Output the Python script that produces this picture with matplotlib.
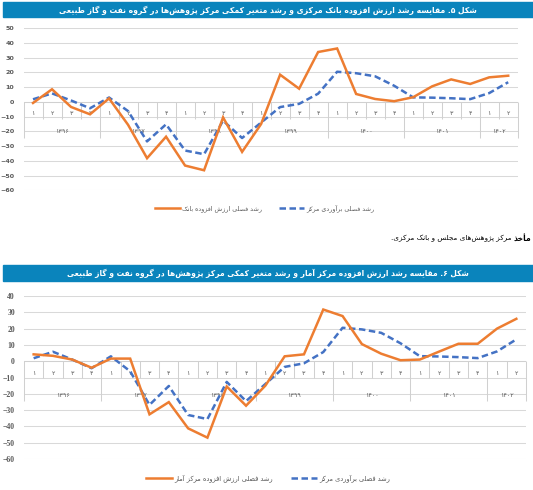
import re
import matplotlib
matplotlib.use('Agg')
import matplotlib.pyplot as plt
from matplotlib.patches import Rectangle

W, H = 533, 490

# ---------------- data ----------------
quarters = ['۱', '۲', '۳', '۴'] * 6 + ['۱', '۲']
years = ['۱۳۹۶', '۱۳۹۷', '۱۳۹۸', '۱۳۹۹', '۱۴۰۰', '۱۴۰۱', '۱۴۰۲']
year_quarters = [4, 4, 4, 4, 4, 4, 2]

bank_growth = [-0.7, 8.6, -3.4, -8.4, 2.4, -15.5, -38.2, -23.6, -43.2, -46.4,
               -10.5, -33.9, -15.0, 18.5, 9.0, 33.9, 36.3, 5.4, 2.0, 0.5,
               3.2, 10.6, 15.3, 12.2, 16.7, 17.8]
estimate_growth = [1.8, 5.8, 1.0, -4.3, 3.0, -6.2, -26.8, -15.2, -33.0, -35.5,
                   -12.7, -24.5, -14.0, -3.5, -1.3, 5.6, 20.5, 19.5, 17.4, 11.0,
                   3.1, 2.9, 2.5, 1.9, 6.0, 13.4]
stat_growth = [4.2, 3.3, 1.0, -4.0, 1.6, 1.6, -32.6, -25.1, -41.2, -46.9,
               -15.5, -27.3, -15.0, 3.0, 4.2, 31.7, 27.7, 10.5, 4.6, 0.6,
               1.0, 5.9, 10.7, 10.7, 20.0, 26.0]

title1 = 'شکل ۵. مقایسه رشد ارزش افزوده بانک مرکزی و رشد متغیر کمکی مرکز پژوهش‌ها در گروه نفت و گاز طبیعی'
title2 = 'شکل ۶. مقایسه رشد ارزش افزوده مرکز آمار و رشد متغیر کمکی مرکز پژوهش‌ها در گروه نفت و گاز طبیعی'
legend1 = ['رشد فصلی ارزش افزوده بانک', 'رشد فصلی برآوردی مرکز']
legend2 = ['رشد فصلی ارزش افزوده مرکز آمار', 'رشد فصلی برآوردی مرکز']
source_head = 'مأخذ'
source_body = 'مرکز پژوهش‌های مجلس و بانک مرکزی.'

ORANGE = '#ED7D31'
BLUE = '#4472C4'
BAR = '#0A84BC'
GRID = '#D9D9D9'
LABEL = '#595959'

# ---------------- Persian shaping (presentation forms + simple bidi) ----------------
FORMS = {
    '\u0622': ('\uFE81', '\uFE82', None, None),
    '\u0623': ('\uFE83', '\uFE84', None, None),
    '\u0627': ('\uFE8D', '\uFE8E', None, None),
    '\u0628': ('\uFE8F', '\uFE90', '\uFE91', '\uFE92'),
    '\u067E': ('\uFB56', '\uFB57', '\uFB58', '\uFB59'),
    '\u062A': ('\uFE95', '\uFE96', '\uFE97', '\uFE98'),
    '\u062B': ('\uFE99', '\uFE9A', '\uFE9B', '\uFE9C'),
    '\u062C': ('\uFE9D', '\uFE9E', '\uFE9F', '\uFEA0'),
    '\u0686': ('\uFB7A', '\uFB7B', '\uFB7C', '\uFB7D'),
    '\u062D': ('\uFEA1', '\uFEA2', '\uFEA3', '\uFEA4'),
    '\u062E': ('\uFEA5', '\uFEA6', '\uFEA7', '\uFEA8'),
    '\u062F': ('\uFEA9', '\uFEAA', None, None),
    '\u0630': ('\uFEAB', '\uFEAC', None, None),
    '\u0631': ('\uFEAD', '\uFEAE', None, None),
    '\u0632': ('\uFEAF', '\uFEB0', None, None),
    '\u0698': ('\uFB8A', '\uFB8B', None, None),
    '\u0633': ('\uFEB1', '\uFEB2', '\uFEB3', '\uFEB4'),
    '\u0634': ('\uFEB5', '\uFEB6', '\uFEB7', '\uFEB8'),
    '\u0635': ('\uFEB9', '\uFEBA', '\uFEBB', '\uFEBC'),
    '\u0636': ('\uFEBD', '\uFEBE', '\uFEBF', '\uFEC0'),
    '\u0637': ('\uFEC1', '\uFEC2', '\uFEC3', '\uFEC4'),
    '\u0638': ('\uFEC5', '\uFEC6', '\uFEC7', '\uFEC8'),
    '\u0639': ('\uFEC9', '\uFECA', '\uFECB', '\uFECC'),
    '\u063A': ('\uFECD', '\uFECE', '\uFECF', '\uFED0'),
    '\u0641': ('\uFED1', '\uFED2', '\uFED3', '\uFED4'),
    '\u0642': ('\uFED5', '\uFED6', '\uFED7', '\uFED8'),
    '\u06A9': ('\uFB8E', '\uFB8F', '\uFB90', '\uFB91'),
    '\u06AF': ('\uFB92', '\uFB93', '\uFB94', '\uFB95'),
    '\u0644': ('\uFEDD', '\uFEDE', '\uFEDF', '\uFEE0'),
    '\u0645': ('\uFEE1', '\uFEE2', '\uFEE3', '\uFEE4'),
    '\u0646': ('\uFEE5', '\uFEE6', '\uFEE7', '\uFEE8'),
    '\u0647': ('\uFEE9', '\uFEEA', '\uFEEB', '\uFEEC'),
    '\u0648': ('\uFEED', '\uFEEE', None, None),
    '\u06CC': ('\uFBFC', '\uFBFD', '\uFBFE', '\uFBFF'),
}


def shape(text):
    out = []
    n = len(text)
    for i, c in enumerate(text):
        if c not in FORMS:
            out.append(c)
            continue
        prev = text[i - 1] if i > 0 else None
        nxt = text[i + 1] if i + 1 < n else None
        iso, fin, ini, med = FORMS[c]
        jp = prev in FORMS and FORMS[prev][2] is not None
        jn = nxt in FORMS and ini is not None
        if jp and jn:
            out.append(med)
        elif jp:
            out.append(fin)
        elif jn:
            out.append(ini)
        else:
            out.append(iso)
    s = ''.join(out).replace('\u200c', '')
    s = s[::-1]
    s = re.sub(r'[0-9\u06F0-\u06F9]+', lambda m: m.group(0)[::-1], s)
    return s


plt.rcParams['font.family'] = ['DejaVu Sans']

fig = plt.figure(figsize=(W / 100, H / 100), dpi=100)


def frect(x0, y0, x1, y1):
    return [x0 / W, 1 - y1 / H, (x1 - x0) / W, (y1 - y0) / H]


def fit_width(t, target_px):
    fig.canvas.draw()
    w = t.get_window_extent().width
    t.set_fontsize(t.get_fontsize() * target_px / w)


def title_bar(y0, y1, cx, text, target_w):
    fig.patches.append(Rectangle((3 / W, 1 - y1 / H), (W - 3) / W, (y1 - y0) / H,
                                 transform=fig.transFigure, color=BAR, zorder=0))
    t = fig.text(cx / W, 1 - ((y0 + y1) / 2 + 0.3) / H, shape(text), color='white',
                 ha='center', va='center', fontsize=6, weight='bold')
    fit_width(t, target_w)


def draw_chart(box, orange, ylim, ytick_kw, q_px, y_px, qsep_px, ysep_px,
               labels, legend_xy, legend_kw):
    ax = fig.add_axes(frect(*box))
    n = len(quarters)
    xs = list(range(n))
    ax.set_xlim(-0.5, n - 0.5)
    ax.set_ylim(*ylim)
    ax.set_yticks(list(range(ylim[0], ylim[1] + 1, 10)))
    ax.set_xticks([])
    ax.grid(axis='y', color=GRID, lw=0.75)
    ax.set_axisbelow(True)
    for sp in ax.spines.values():
        sp.set_visible(False)
    ax.tick_params(axis='y', length=0, pad=ytick_kw.pop('pad'))
    for t in ax.get_yticklabels():
        t.set(**ytick_kw)
    ax.axhline(0, color='#D0D0D0', lw=0.75, zorder=1)

    h_px = (box[3] - box[1])
    upp = (ylim[1] - ylim[0]) / h_px

    # category separators
    bounds = [0]
    for c in year_quarters:
        bounds.append(bounds[-1] + c)
    for b in range(n + 1):
        depth = ysep_px if b in bounds else qsep_px
        ax.vlines(b - 0.5, -depth * upp, 0, color='#D0D0D0', lw=0.75,
                  clip_on=False, zorder=1)
    for i, q in enumerate(quarters):
        ax.text(i, -q_px * upp, q, ha='center', va='center', fontsize=4.6,
                color=LABEL, zorder=2)
    for k, yr in enumerate(years):
        cx = (bounds[k] + bounds[k + 1] - 1) / 2
        ax.text(cx, -y_px * upp, yr, ha='center', va='center', fontsize=4.6,
                color=LABEL, zorder=2)

    l1, = ax.plot(xs, orange, color=ORANGE, lw=1.8, zorder=4,
                  solid_joinstyle='miter')
    l2, = ax.plot(xs, estimate_growth, color=BLUE, lw=1.8, zorder=3,
                  ls=(0, (2.6, 1.4)))
    ax.legend([l1, l2], [shape(t) for t in labels], ncol=2, frameon=False,
              loc='center', bbox_to_anchor=(legend_xy[0] / W, 1 - legend_xy[1] / H),
              bbox_transform=fig.transFigure, labelcolor=LABEL, **legend_kw)
    return ax


# ---------------- chart 1 ----------------
title_bar(2, 17.5, 267.5, title1, 409)
draw_chart((23.5, 28.3, 517.7, 190.3), bank_growth, (-60, 50),
           dict(fontsize=4.6, color=LABEL, weight='bold', pad=6.5),
           11.5, 29.5, 17.5, 36.5, legend1, (264.5, 208.3),
           dict(fontsize=4.6, handlelength=3.9, handletextpad=0.35,
                columnspacing=2.6))

head = fig.text(531 / W, 1 - 238 / H, shape(source_head), ha='right', va='center',
                fontsize=5.5, weight='bold', color='black')
fig.canvas.draw()
bb = head.get_window_extent()
fig.text((bb.x0 - 2) / W, 1 - 238 / H, shape(source_body), ha='right',
         va='center', fontsize=5.2, color='black')

# ---------------- chart 2 ----------------
title_bar(265, 281, 268, title2, 398)
draw_chart((24, 296, 526, 459), stat_growth, (-60, 40),
           dict(fontsize=5.6, color=LABEL, weight='bold', family='Liberation Serif', pad=6.5),
           12, 34, 17, 40, legend2, (268, 478.3),
           dict(fontsize=4.8, handlelength=3.9, handletextpad=0.35,
                columnspacing=2.6))

fig.savefig('out.png', dpi=100)
